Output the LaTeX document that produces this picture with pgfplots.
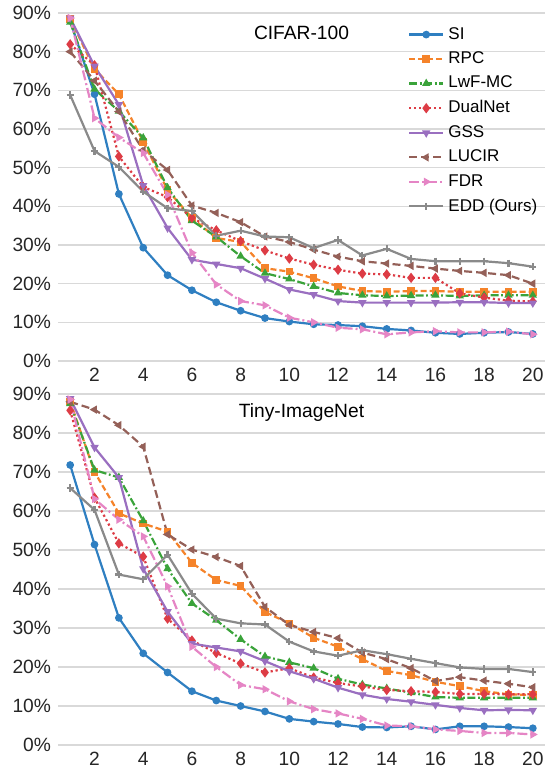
\documentclass[border=0pt]{standalone}
\usepackage{fontspec}
\setmainfont{Liberation Sans}
\usepackage{pgfplots}
\usepackage{pgfplotstable}
\pgfplotsset{compat=1.18}

\definecolor{cSI}{HTML}{2F7FC1}
\definecolor{cRPC}{HTML}{F5832A}
\definecolor{cLWF}{HTML}{3AA33A}
\definecolor{cDUAL}{HTML}{DD3C45}
\definecolor{cGSS}{HTML}{9A6FC0}
\definecolor{cLUC}{HTML}{946058}
\definecolor{cFDR}{HTML}{E585C5}
\definecolor{cEDD}{HTML}{8A8A8A}
\definecolor{gridgray}{HTML}{D9D9D9}

% CIFAR-100
\pgfplotstableread{
x  si    rpc   lwf   dual  gss   lucir fdr   edd
1  88.0  88.5  87.6  81.9  88.7  80.0  88.7  68.8
2  69.0  75.5  70.3  76.5  76.3  72.5  62.8  54.3
3  43.2  69.0  64.6  52.9  66.3  64.5  57.8  50.2
4  29.3  56.7  57.7  45.0  45.4  54.5  53.8  43.8
5  22.2  44.2  44.8  42.4  34.4  49.4  43.0  39.5
6  18.3  37.0  36.3  37.0  26.2  40.2  28.0  38.8
7  15.2  31.8  32.1  33.8  25.1  38.3  19.8  32.4
8  13.0  30.8  27.1  31.0  24.0  35.9  15.5  33.7
9  11.1  24.0  22.7  28.6  21.3  32.2  14.4  32.2
10 10.2  23.1  21.2  26.5  18.5  30.8  11.2  32.0
11  9.5  21.4  19.3  24.9  17.2  28.8  10.0  29.2
12  9.3  19.3  17.6  23.6  15.5  27.0   8.6  31.3
13  9.0  18.1  17.0  22.6  15.1  25.8   8.2  27.3
14  8.3  17.9  16.8  22.4  15.1  25.2   6.9  29.0
15  7.9  18.1  16.9  21.5  15.1  24.6   7.4  26.4
16  7.3  18.1  17.0  21.5  15.1  23.9   7.7  25.8
17  7.0  17.9  16.8  17.5  15.2  23.3   7.4  25.8
18  7.3  17.9  17.0  16.4  15.2  22.8   7.4  25.8
19  7.5  17.9  17.0  15.6  15.0  22.2   7.6  25.3
20  7.0  17.9  17.0  15.4  15.0  20.0   6.9  24.4
}\cifar

% Tiny-ImageNet
\pgfplotstableread{
x  si    rpc   lwf   dual  gss   lucir fdr   edd
1  71.8  88.1  87.5  85.8  88.8  88.0  88.6  65.9
2  51.4  70.0  70.5  63.4  76.3  86.0  63.1  60.3
3  32.6  59.4  68.6  51.7  68.6  82.0  57.8  43.7
4  23.5  56.8  57.5  48.3  45.2  76.5  53.5  42.5
5  18.6  54.7  45.2  32.4  34.2  54.0  40.7  48.8
6  13.8  46.7  36.3  26.8  26.0  50.1  25.2  38.8
7  11.4  42.3  32.0  23.6  25.0  48.2  20.0  32.4
8  10.0  40.8  27.1  20.9  24.0  45.9  15.4  31.2
9   8.6  34.1  22.7  18.6  21.5  35.4  14.3  30.9
10  6.7  31.2  21.2  19.7  18.9  30.8  11.2  26.5
11  6.0  27.5  19.7  17.3  17.0  29.0   9.2  24.0
12  5.4  25.2  17.0  15.9  14.7  27.4   8.1  22.9
13  4.6  22.0  15.5  15.0  12.9  23.7   6.7  24.3
14  4.5  19.0  14.5  14.1  11.8  22.0   5.0  23.3
15  4.8  17.9  13.4  13.8  11.1  19.7   4.8  22.1
16  4.0  16.2  12.3  13.6  10.3  16.4   4.0  21.0
17  4.8  15.1  12.1  13.1   9.5  17.4   3.6  19.9
18  4.8  13.8  12.1  13.1   8.9  16.5   3.1  19.5
19  4.6  13.0  12.1  13.0   9.0  15.7   3.1  19.5
20  4.3  12.8  12.1  13.0   8.9  14.8   2.7  18.7
}\tiny

\pgfplotsset{
  panel/.style={
    scale only axis, width=243.5pt,
    xmin=0.5, xmax=20.5, ymin=0, ymax=90,
    xtick={2,4,...,20}, xticklabels={2,4,6,8,10,12,14,16,18,20},
    ytick={0,10,...,90},
    yticklabels={0\%,10\%,20\%,30\%,40\%,50\%,60\%,70\%,80\%,90\%},
    ymajorgrids, grid style={draw=gridgray, line width=0.6pt},
    axis line style={draw=none}, major tick length=0pt,
    tick label style={font=\fontsize{9.6}{11}\selectfont, text=black!85},
    every axis plot/.append style={line width=1.1pt, mark size=1.35pt},
  },
  si/.style={color=cSI, mark=*},
  rpc/.style={color=cRPC, dash pattern=on 3pt off 1.5pt, mark=square*, mark options={solid}},
  lwf/.style={color=cLWF, dash pattern=on 4pt off 1.3pt on 0.9pt off 1.3pt, mark=triangle*, mark options={solid}},
  dual/.style={color=cDUAL, dash pattern=on 1.1pt off 1.4pt, mark=diamond*, mark size=1.7pt, mark options={solid}},
  gss/.style={color=cGSS, mark=triangle*, mark options={solid, rotate=180}},
  lucir/.style={color=cLUC, dash pattern=on 4pt off 2pt, mark=triangle*, mark options={solid, rotate=90}},
  fdr/.style={color=cFDR, dash pattern=on 5pt off 1.5pt on 1pt off 1.5pt, mark=triangle*, mark options={solid, rotate=-90}},
  edd/.style={color=cEDD, mark=+, mark size=1.8pt, mark options={solid}},
}

\begin{document}
\begin{tikzpicture}
\path[use as bounding box] (0,0) rectangle (274pt,-385.5pt);

\begin{axis}[panel, at={(29pt,-180.5pt)}, anchor=south west, height=174pt,
  legend style={draw=none, fill=none, inner sep=0pt, at={(0.718,0.972)}, anchor=north west,
    font=\fontsize{8.5}{10}\selectfont, row sep=0.8pt},
  legend cell align=left]
\addplot[si]    table[y=si]    {\cifar};
\addplot[rpc]   table[y=rpc]   {\cifar};
\addplot[lwf]   table[y=lwf]   {\cifar};
\addplot[dual]  table[y=dual]  {\cifar};
\addplot[gss]   table[y=gss]   {\cifar};
\addplot[lucir] table[y=lucir] {\cifar};
\addplot[fdr]   table[y=fdr]   {\cifar};
\addplot[edd]   table[y=edd]   {\cifar};
\legend{SI,RPC,LwF-MC,DualNet,GSS,LUCIR,FDR,EDD (Ours)}
\node[font=\fontsize{9.6}{11}\selectfont] at (rel axis cs:0.5,0.942) {CIFAR-100};
\end{axis}

\begin{axis}[panel, at={(29pt,-372.5pt)}, anchor=south west, height=175.5pt]
\addplot[si]    table[y=si]    {\tiny};
\addplot[rpc]   table[y=rpc]   {\tiny};
\addplot[lwf]   table[y=lwf]   {\tiny};
\addplot[dual]  table[y=dual]  {\tiny};
\addplot[gss]   table[y=gss]   {\tiny};
\addplot[lucir] table[y=lucir] {\tiny};
\addplot[fdr]   table[y=fdr]   {\tiny};
\addplot[edd]   table[y=edd]   {\tiny};
\node[font=\fontsize{9.6}{11}\selectfont] at (rel axis cs:0.5,0.946) {Tiny-ImageNet};
\end{axis}
\end{tikzpicture}
\end{document}
